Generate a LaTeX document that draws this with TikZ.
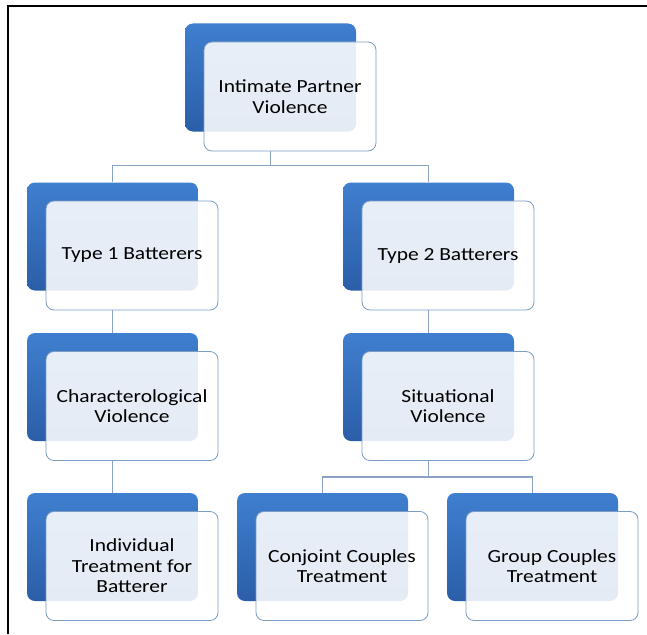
\documentclass[tikz,border=0pt]{standalone}
\usepackage{fontspec}
\setmainfont{Carlito}[FakeStretch=1.16]
\definecolor{ipvtop}{HTML}{3F7FCF}
\definecolor{ipvbot}{HTML}{2B5EA8}
\definecolor{ipvedge}{HTML}{7D9CC4}
\definecolor{ipvline}{HTML}{8AA3C4}

\begin{document}
\begin{tikzpicture}[x=1pt,y=-1pt,
  backbox/.style={rounded corners=8pt,minimum width=171pt,minimum height=108pt,inner sep=0pt,top color=ipvtop,bottom color=ipvbot,draw=none},
  frontbox/.style={draw=ipvedge,line width=0.8pt,rounded corners=8pt,fill=white,fill opacity=0.88,text opacity=1,minimum width=172pt,minimum height=109pt,inner sep=0pt,align=center,font=\fontsize{18.5}{20.5}\selectfont},
  link/.style={draw=ipvline,line width=1.2pt}]
  \useasboundingbox (0,0) rectangle (647,634);
  \draw[line width=2.5pt] (8,634) -- (8,6) -- (647,6);
  % boxes
  \foreach \n/\x/\y/\t in {ipv/270.5/77.5/{Intimate Partner\\Violence},
      t1/112.5/236.5/{Type 1 Batterers}, t2/428.5/236.5/{Type 2 Batterers},
      ch/112.5/387/{Characterological\\Violence}, sit/428.5/387/{Situational\\Violence},
      ind/112.5/547/{Individual\\Treatment for\\Batterer},
      con/322.5/547/{Conjoint Couples\\Treatment}, grp/532.5/547/{Group Couples\\Treatment}} {
    \node[backbox] (\n-b) at (\x,\y) {};
    \node[frontbox] (\n) at (\x+19.5,\y+19) {\t};
  }
  % links
  \draw[link] (ipv-b.south |- ipv.south) -- ++(0,14) coordinate (bus1);
  \draw[link] (bus1) -| (t1-b.north);
  \draw[link] (bus1) -| (t2-b.north);
  \draw[link] (t1-b.south |- t1.south) -- (ch-b.north);
  \draw[link] (ch-b.south |- ch.south) -- (ind-b.north);
  \draw[link] (t2-b.south |- t2.south) -- (sit-b.north);
  \draw[link] (sit-b.south |- sit.south) -- ++(0,16) coordinate (bus2);
  \draw[link] (bus2) -| (con-b.north);
  \draw[link] (bus2) -| (grp-b.north);
\end{tikzpicture}
\end{document}
